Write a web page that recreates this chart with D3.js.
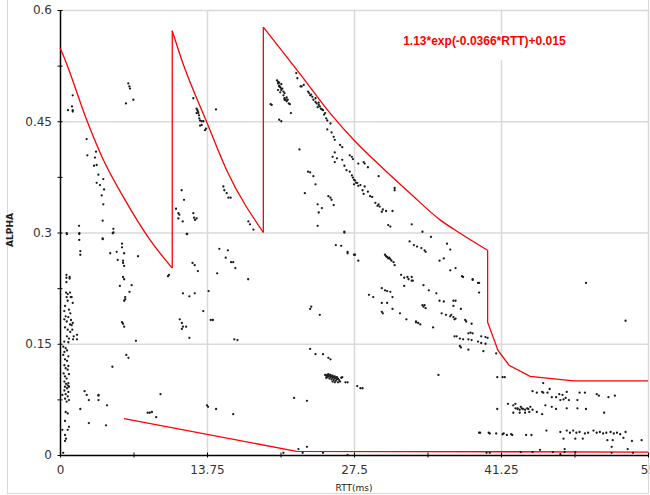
<!DOCTYPE html>
<html>
<head>
<meta charset="utf-8">
<script src="https://cdn.jsdelivr.net/npm/d3@7"></script>
<style>
  body { margin: 0; background: #fff; }
  svg { display: block; }
</style>
</head>
<body>
<svg id="chart"></svg>
<script>
// tick values
let xTicks = [0, 13.75, 27.5, 41.25, 55];
let yTicks = [0, 0.15, 0.3, 0.45, 0.6];

// fit curve label
let fitText = '1.13*exp(-0.0366*RTT)+0.015';

// red envelope, [rtt, alpha]: three decaying teeth, then the tail
let toothCurve1 = [[0, 0.549], [0.47, 0.533], [2.49, 0.452], [4.05, 0.398], [5.92, 0.348], [8.42, 0.29], [10.5, 0.252]];
let toothCurve2 = [[10.5, 0.572], [11.38, 0.533], [13.72, 0.449], [15.59, 0.384], [19.02, 0.3]];
let toothCurve3 = [[19.02, 0.577], [22.45, 0.514], [25.26, 0.461], [27.53, 0.424], [30.4, 0.384],
  [32.74, 0.353], [35.55, 0.317], [37.42, 0.299], [40.0, 0.276]];
let envelopeTail = [[40.0, 0.276], [40.0, 0.179], [40.97, 0.141], [42.0, 0.121], [43.97, 0.106], [48.02, 0.1], [55, 0.1]];
let floorLine = [[5.99, 0.049], [22.14, 0.005], [55, 0.004]];

// samples near zero RTT
let nearZero = [
  [0.6, 0.243], [0.6, 0.239], [0.6, 0.233], [0.9, 0.24], [0.9, 0.238],
  [0.57, 0.219], [0.72, 0.217], [0.94, 0.219], [0.62, 0.213], [1.0, 0.213], [1.09, 0.213], [0.72, 0.208],
  [1.19, 0.205], [0.47, 0.201], [0.84, 0.196], [0.4, 0.194], [0.96, 0.191],
  [0.53, 0.187], [0.78, 0.186], [0.4, 0.183], [1.03, 0.182], [0.63, 0.18], [0.94, 0.176], [1.09, 0.175],
  [1.19, 0.178], [0.47, 0.172], [0.72, 0.169], [1.15, 0.169], [0.96, 0.166], [0.65, 0.16], [1.28, 0.16],
  [1.59, 0.162], [0.84, 0.157], [1.22, 0.156], [1.59, 0.156], [0.4, 0.153], [0.78, 0.152],
  [0.31, 0.146], [0.53, 0.144], [0.41, 0.139], [0.66, 0.141], [0.31, 0.135], [0.78, 0.133], [0.47, 0.129],
  [0.66, 0.127], [0.41, 0.121], [0.78, 0.12], [0.53, 0.117], [0.72, 0.115], [0.34, 0.11], [0.84, 0.109],
  [0.47, 0.106], [0.62, 0.103], [0.41, 0.099], [0.78, 0.097], [0.56, 0.096], [0.72, 0.094], [0.47, 0.092],
  [0.84, 0.092], [0.66, 0.09], [0.41, 0.087], [0.78, 0.085], [0.53, 0.082], [0.22, 0.081], [0.72, 0.079],
  [0.47, 0.076], [0.84, 0.074], [0.62, 0.072], [0.53, 0.058], [0.72, 0.056], [0.47, 0.046], [0.84, 0.038],
  [0.22, 0.034], [0.72, 0.034], [0.47, 0.027], [0.56, 0.022], [0.47, 0.019], [0.3, 0.003], [0.65, 0.298],
  [1.8, 0.298], [1.8, 0.29], [1.9, 0.275], [1.9, 0.27],
  [1.12, 0.47], [1.19, 0.465], [1.19, 0.463], [0.75, 0.465], [1.19, 0.485]
];

// first saw tooth (0 - 10.5 ms)
let firstTooth = [
  [6.39, 0.501], [6.49, 0.497], [6.55, 0.494], [6.17, 0.474], [6.86, 0.479],
  [2.49, 0.426], [2.56, 0.404], [3.37, 0.409], [3.27, 0.401], [3.18, 0.39], [3.43, 0.391], [3.59, 0.378],
  [3.43, 0.367], [3.74, 0.364], [4.05, 0.372], [4.12, 0.358], [3.9, 0.35], [4.05, 0.338], [3.99, 0.316],
  [4.99, 0.305], [4.93, 0.299], [1.78, 0.309], [1.81, 0.299], [0.62, 0.299], [3.99, 0.292],
  [4.0, 0.291], [5.0, 0.3], [5.8, 0.285], [5.8, 0.28], [4.7, 0.272], [5.3, 0.274], [6.0, 0.272],
  [5.4, 0.263], [5.9, 0.262], [5.9, 0.259], [6.0, 0.255], [7.3, 0.268], [5.9, 0.24], [6.0, 0.237],
  [5.6, 0.228], [6.7, 0.229], [6.5, 0.22], [6.1, 0.213], [6.1, 0.21], [6.0, 0.208], [5.8, 0.179],
  [5.9, 0.177], [6.0, 0.173], [7.1, 0.154], [6.2, 0.135], [6.4, 0.131], [4.9, 0.119],
  [2.3, 0.086], [2.5, 0.081], [2.7, 0.074], [3.6, 0.081], [3.6, 0.08], [3.6, 0.074], [4.4, 0.067],
  [1.9, 0.062], [9.4, 0.082], [2.7, 0.043], [4.3, 0.04], [8.2, 0.057], [8.4, 0.057], [8.6, 0.058],
  [9.0, 0.051], [10.1, 0.241], [10.2, 0.243]
];

// second saw tooth (10.5 - 19 ms)
let secondTooth = [
  [12.47, 0.481], [12.78, 0.467], [12.85, 0.465], [12.94, 0.461], [12.78, 0.461], [13.03, 0.454],
  [13.1, 0.451], [13.25, 0.45], [13.41, 0.45], [13.25, 0.445], [13.1, 0.444], [13.66, 0.44],
  [13.56, 0.438], [14.59, 0.466], [12.9, 0.463], [13.0, 0.458],
  [10.85, 0.332], [11.07, 0.326], [11.16, 0.324], [11.07, 0.319], [11.48, 0.315], [11.38, 0.357],
  [11.6, 0.344], [12.47, 0.326], [12.54, 0.32], [12.78, 0.319], [12.63, 0.317], [11.85, 0.298],
  [15.28, 0.362], [15.37, 0.357], [15.59, 0.353], [15.75, 0.347], [15.96, 0.347], [17.62, 0.315],
  [17.77, 0.311], [18.09, 0.304],
  [11.5, 0.218], [12.1, 0.214], [12.6, 0.218], [11.9, 0.298], [11.2, 0.183], [11.4, 0.178],
  [11.5, 0.173], [11.8, 0.173], [11.4, 0.17], [12.1, 0.158], [12.4, 0.259], [12.6, 0.256], [12.9, 0.248],
  [14.9, 0.278], [15.7, 0.276], [15.5, 0.266], [16.0, 0.26], [16.2, 0.26], [16.4, 0.252], [14.7, 0.245],
  [17.6, 0.237], [13.9, 0.221], [13.4, 0.194], [14.1, 0.182], [14.3, 0.182], [16.3, 0.156], [16.6, 0.155],
  [13.75, 0.067], [13.85, 0.065], [14.6, 0.062], [16.2, 0.055]
];

// third saw tooth (19 - 40 ms)
let thirdTooth = [
  [20.3, 0.505], [20.4, 0.503], [20.4, 0.501], [20.5, 0.498], [20.6, 0.496], [20.7, 0.494], [20.7, 0.492],
  [20.9, 0.49], [21.0, 0.488], [21.0, 0.481], [21.1, 0.479], [21.2, 0.477], [21.4, 0.474], [21.5, 0.473],
  [21.6, 0.461], [20.5, 0.497], [20.7, 0.5], [20.8, 0.494], [20.4, 0.492], [21.0, 0.479], [21.3, 0.479],
  [20.5, 0.502], [20.6, 0.489], [20.9, 0.485], [21.2, 0.482],
  [19.7, 0.473], [19.8, 0.472], [20.5, 0.452], [20.7, 0.45],
  [22.1, 0.515], [22.2, 0.508], [22.6, 0.497], [22.8, 0.499], [22.5, 0.497],
  [23.2, 0.49], [23.3, 0.488], [23.5, 0.486], [23.6, 0.483], [23.7, 0.479], [23.9, 0.476], [24.0, 0.474],
  [24.2, 0.472], [24.3, 0.47], [24.5, 0.466], [24.6, 0.465], [24.8, 0.461], [24.9, 0.454], [25.0, 0.451],
  [25.3, 0.447], [23.9, 0.481], [24.2, 0.475], [24.4, 0.467], [23.4, 0.485], [24.1, 0.469], [24.7, 0.459],
  [25.0, 0.439], [25.4, 0.435], [25.6, 0.429], [25.7, 0.425], [26.2, 0.418], [26.4, 0.415],
  [25.7, 0.408], [25.5, 0.402], [25.9, 0.4], [25.7, 0.395], [26.4, 0.398], [26.6, 0.39], [26.8, 0.384],
  [27.1, 0.382], [27.3, 0.377], [27.4, 0.374], [27.6, 0.37], [27.7, 0.367], [27.9, 0.363], [27.5, 0.365],
  [27.1, 0.404], [27.3, 0.402], [27.4, 0.399], [27.9, 0.393], [28.4, 0.395], [28.5, 0.393], [28.8, 0.388],
  [27.5, 0.371], [27.8, 0.367], [28.1, 0.364], [28.3, 0.357], [22.4, 0.412],
  [23.2, 0.382], [23.4, 0.381], [23.7, 0.376], [23.9, 0.365], [22.9, 0.353], [25.1, 0.349], [25.3, 0.347],
  [25.4, 0.344], [25.6, 0.337], [24.1, 0.338], [24.2, 0.327], [24.5, 0.333], [24.1, 0.309],
  [28.5, 0.362], [28.8, 0.355], [29.2, 0.348], [29.5, 0.34], [29.8, 0.338], [29.9, 0.335], [30.2, 0.331],
  [30.1, 0.328], [31.1, 0.329], [30.7, 0.31], [30.9, 0.308], [31.3, 0.36], [31.3, 0.357], [32.9, 0.311],
  [29.8, 0.376], [28.4, 0.352], [29.0, 0.349], [29.7, 0.336], [30.5, 0.329], [26.6, 0.301], [33.9, 0.301],
  [26.6, 0.3], [25.8, 0.283], [26.3, 0.282], [26.9, 0.272], [27.5, 0.27], [27.9, 0.262], [26.9, 0.274],
  [27.6, 0.27],
  [30.4, 0.27], [30.6, 0.267], [30.8, 0.266], [30.9, 0.264], [31.0, 0.262], [31.2, 0.26], [31.3, 0.256],
  [30.5, 0.268], [30.7, 0.265],
  [32.7, 0.288], [33.1, 0.283], [33.4, 0.281], [33.8, 0.279], [34.1, 0.276], [34.2, 0.274], [34.7, 0.294],
  [36.2, 0.285], [36.5, 0.277], [35.9, 0.265], [35.5, 0.262], [37.0, 0.252], [36.5, 0.249], [37.6, 0.241],
  [37.7, 0.24], [38.6, 0.236], [39.2, 0.232], [39.2, 0.219], [39.1, 0.232], [38.6, 0.237],
  [31.9, 0.243], [32.2, 0.239], [32.5, 0.24], [32.6, 0.237], [32.9, 0.235], [32.2, 0.228], [32.9, 0.24],
  [33.0, 0.235], [34.0, 0.229], [34.5, 0.222], [35.2, 0.218], [35.5, 0.208], [35.9, 0.207], [36.8, 0.208],
  [37.0, 0.208], [36.8, 0.201], [34.1, 0.202], [34.2, 0.198], [33.9, 0.202], [34.0, 0.2],
  [30.1, 0.225], [30.4, 0.222], [30.6, 0.221], [30.9, 0.22], [31.1, 0.213], [28.9, 0.216], [29.3, 0.213],
  [30.1, 0.205], [30.6, 0.205], [31.1, 0.197], [30.1, 0.193], [30.2, 0.191], [31.8, 0.191], [32.4, 0.183],
  [33.3, 0.179], [33.5, 0.178], [33.3, 0.18], [33.7, 0.176], [34.9, 0.172],
  [35.7, 0.191], [36.1, 0.189], [36.5, 0.187], [36.6, 0.189], [36.8, 0.186], [37.0, 0.184], [37.9, 0.182],
  [38.0, 0.18], [37.5, 0.197], [38.5, 0.177], [36.9, 0.183],
  [36.9, 0.16], [37.1, 0.16], [37.4, 0.157], [37.7, 0.156], [38.2, 0.156], [38.5, 0.155], [38.4, 0.165],
  [39.4, 0.16], [39.8, 0.159], [40.0, 0.158], [39.1, 0.153], [39.4, 0.151], [39.8, 0.15], [37.4, 0.147],
  [37.5, 0.145], [38.2, 0.142], [39.6, 0.14], [40.8, 0.137], [38.6, 0.164], [38.2, 0.164],
  [23.5, 0.2], [23.4, 0.197], [24.3, 0.189], [23.4, 0.143], [23.9, 0.136], [24.6, 0.136], [25.1, 0.131],
  [25.3, 0.129], [35.4, 0.108]
];

// cluster around 25 ms / 0.1
let midCluster = [
  [24.8, 0.108], [24.9, 0.107], [25.0, 0.108], [25.1, 0.106], [25.2, 0.107], [25.3, 0.105], [25.0, 0.105],
  [25.4, 0.106], [25.5, 0.104], [25.6, 0.105], [25.7, 0.103], [25.8, 0.104], [25.9, 0.102], [26.0, 0.103],
  [25.2, 0.103], [25.4, 0.102], [25.6, 0.101], [25.8, 0.1], [26.1, 0.101], [26.2, 0.099], [25.1, 0.109],
  [25.3, 0.108], [25.5, 0.107], [25.7, 0.106], [25.9, 0.105], [24.9, 0.104], [25.5, 0.099], [26.0, 0.098],
  [26.3, 0.104], [25.7, 0.098],
  [26.4, 0.105], [26.7, 0.098], [26.9, 0.098], [27.8, 0.093], [28.1, 0.09], [28.3, 0.09],
  [21.9, 0.077], [23.1, 0.073], [22.3, 0.008], [22.7, 0.003], [23.1, 0.011], [24.6, 0.003], [26.9, 0.0],
  [20.9, 0.003]
];

// low alpha samples beyond 39 ms
let lowRight = [
  [40.9, 0.105], [41.4, 0.105], [41.6, 0.105], [45.2, 0.097],
  [44.2, 0.086], [44.6, 0.084], [45.1, 0.085], [45.2, 0.084], [45.6, 0.084], [45.8, 0.089], [46.0, 0.078],
  [46.4, 0.078], [46.7, 0.082], [47.0, 0.081], [47.1, 0.075], [47.3, 0.077], [47.4, 0.085], [47.6, 0.074],
  [46.8, 0.074], [48.4, 0.074], [48.6, 0.084], [49.1, 0.084], [50.2, 0.082], [50.4, 0.08], [51.3, 0.078],
  [51.9, 0.08], [45.4, 0.067], [46.0, 0.065], [46.4, 0.062], [47.4, 0.063], [48.4, 0.063], [49.2, 0.062],
  [50.9, 0.057],
  [41.9, 0.069], [42.4, 0.067], [42.6, 0.069], [42.8, 0.063], [42.8, 0.062], [43.0, 0.061], [43.2, 0.063],
  [43.3, 0.062], [43.5, 0.061], [43.7, 0.063], [43.8, 0.062], [44.0, 0.065], [43.9, 0.058], [44.2, 0.061],
  [44.6, 0.058], [45.1, 0.055], [42.4, 0.057], [43.0, 0.057], [43.5, 0.057], [42.6, 0.063], [43.1, 0.065],
  [40.9, 0.062],
  [46.8, 0.031], [47.4, 0.033], [47.7, 0.03], [48.0, 0.033], [48.3, 0.03], [48.6, 0.031], [49.1, 0.029],
  [49.4, 0.03], [49.9, 0.033], [50.2, 0.03], [50.5, 0.031], [50.8, 0.029], [51.1, 0.03], [51.5, 0.031],
  [51.8, 0.029], [52.1, 0.03], [52.4, 0.028], [52.9, 0.031], [39.3, 0.03], [40.2, 0.029], [40.8, 0.029],
  [41.5, 0.029], [41.8, 0.027], [42.3, 0.027], [43.6, 0.027], [44.1, 0.027], [45.5, 0.033],
  [39.2, 0.03], [40.1, 0.03], [41.4, 0.028], [42.2, 0.028],
  [47.1, 0.022], [48.2, 0.022], [48.9, 0.022], [51.2, 0.02], [51.7, 0.02], [52.7, 0.023], [53.5, 0.019],
  [54.4, 0.02], [51.6, 0.011], [47.2, 0.008],
  [43.1, 0.004], [44.2, 0.004], [44.9, 0.007], [46.1, 0.004], [46.8, 0.001], [47.2, 0.004], [48.2, 0.004],
  [51.6, 0.003], [53.1, 0.008], [53.6, 0.003], [39.9, 0.003], [40.2, 0.003],
  [49.2, 0.232], [52.9, 0.181]
];

let samples = [].concat(nearZero, firstTooth, secondTooth, thirdTooth, midCluster, lowRight);

// layout
let config = { svg: {}, plot: {} };
config.svg.width = 650;
config.svg.height = 495;
config.plot.left = 60;
config.plot.right = 648;
config.plot.top = 10;
config.plot.bottom = 455;

let svg = d3.select('#chart')
  .attr('width', config.svg.width)
  .attr('height', config.svg.height);

let x = d3.scaleLinear().domain([0, 55]).range([config.plot.left, config.plot.right]);
let y = d3.scaleLinear().domain([0, 0.6]).range([config.plot.bottom, config.plot.top]);

let plotWidth = config.plot.right - config.plot.left;
let plotHeight = config.plot.bottom - config.plot.top;

// outer frame
svg.append('rect')
  .attr('x', 7.5).attr('y', -1)
  .attr('width', 641).attr('height', 494.5)
  .attr('fill', 'none')
  .attr('stroke', '#d9d9d9')
  .attr('stroke-width', 1);

// grid lines
let yGrid = svg.append('g')
  .attr('transform', translate(config.plot.left, 0))
  .call(d3.axisLeft(y).tickValues(yTicks.slice(1)).tickSize(-plotWidth).tickFormat(''));
let xGrid = svg.append('g')
  .attr('transform', translate(0, config.plot.bottom))
  .call(d3.axisBottom(x).tickValues(xTicks.slice(1)).tickSize(-plotHeight).tickFormat(''));
[yGrid, xGrid].forEach(g => {
  g.select('.domain').remove();
  g.selectAll('line').attr('stroke', '#d9d9d9').attr('stroke-width', 1.5);
});

// fit label with white box (covers grid)
let labelX = x(32.1), labelY = y(0.553);
svg.append('rect')
  .attr('x', labelX - 5).attr('y', labelY - 11)
  .attr('width', 174).attr('height', 26)
  .attr('fill', '#fff');
svg.append('text')
  .attr('x', labelX).attr('y', labelY)
  .attr('fill', '#ff0000')
  .style('font-family', '"Liberation Sans", Arial, sans-serif')
  .style('font-weight', 'bold')
  .style('font-size', '12px')
  .text(fitText);

// minor/major tick marks crossing the axes
let yMinor = d3.range(0, 0.6001, 0.075);
let xMinor = d3.range(0, 55.001, 6.875);

let yTickG = svg.append('g')
  .attr('transform', translate(config.plot.left + 2.5, 0))
  .call(d3.axisLeft(y).tickValues(yMinor).tickSize(5).tickFormat(''));
let xTickG = svg.append('g')
  .attr('transform', translate(0, config.plot.bottom - 2.5))
  .call(d3.axisBottom(x).tickValues(xMinor).tickSize(5).tickFormat(''));
[yTickG, xTickG].forEach(g => {
  g.select('.domain').remove();
  g.selectAll('line').attr('stroke', '#000').attr('stroke-width', 1);
});

// axis lines and labels
let yAxisG = svg.append('g')
  .attr('transform', translate(config.plot.left, 0))
  .call(d3.axisLeft(y).tickValues(yTicks).tickSize(0).tickPadding(8).tickFormat(d => String(d)));
let xAxisG = svg.append('g')
  .attr('transform', translate(0, config.plot.bottom))
  .call(d3.axisBottom(x).tickValues(xTicks).tickSize(0).tickPadding(10).tickFormat(d => String(d)));
[yAxisG, xAxisG].forEach(g => {
  g.select('.domain').attr('stroke', '#000').attr('stroke-width', 1.5);
  g.selectAll('text')
    .attr('fill', '#333')
    .style('font-family', '"DejaVu Sans", Verdana, sans-serif')
    .style('font-size', '12px');
});

// red envelope: smooth decays, straight jumps and tail
let curve = d3.line().x(d => x(d[0])).y(d => y(d[1])).curve(d3.curveMonotoneX);
let straight = d3.line().x(d => x(d[0])).y(d => y(d[1]));
let teeth = [toothCurve1, toothCurve2, toothCurve3];
let jumps = [[toothCurve1[toothCurve1.length - 1], toothCurve2[0]],
             [toothCurve2[toothCurve2.length - 1], toothCurve3[0]]];

let red = svg.append('g')
  .attr('fill', 'none')
  .attr('stroke', '#ff0000')
  .attr('stroke-width', 1.3);
teeth.forEach(t => red.append('path').datum(t).attr('d', curve));
jumps.forEach(j => red.append('path').datum(j).attr('d', straight));
red.append('path').datum(envelopeTail).attr('d', straight);
red.append('path').datum(floorLine).attr('d', straight);

// scatter points
svg.append('g')
  .selectAll('circle')
  .data(samples)
  .join('circle')
  .attr('cx', d => x(d[0]))
  .attr('cy', d => y(d[1]))
  .attr('r', 1.15)
  .attr('fill', '#1a1a1a');

// axis titles
svg.append('text')
  .attr('transform', translate(13, 230) + ' rotate(-90)')
  .attr('text-anchor', 'middle')
  .style('font-family', '"DejaVu Sans", Verdana, sans-serif')
  .style('font-size', '9px')
  .style('font-weight', 'bold')
  .attr('fill', '#222')
  .text('ALPHA');
svg.append('text')
  .attr('x', x(27.5)).attr('y', 491)
  .attr('text-anchor', 'middle')
  .style('font-family', '"DejaVu Sans", Verdana, sans-serif')
  .style('font-size', '9px')
  .attr('fill', '#222')
  .text('RTT(ms)');

// helper method to make translating easier
function translate(x, y) {
  return 'translate(' + x + ',' + y + ')';
}
</script>
</body>
</html>
